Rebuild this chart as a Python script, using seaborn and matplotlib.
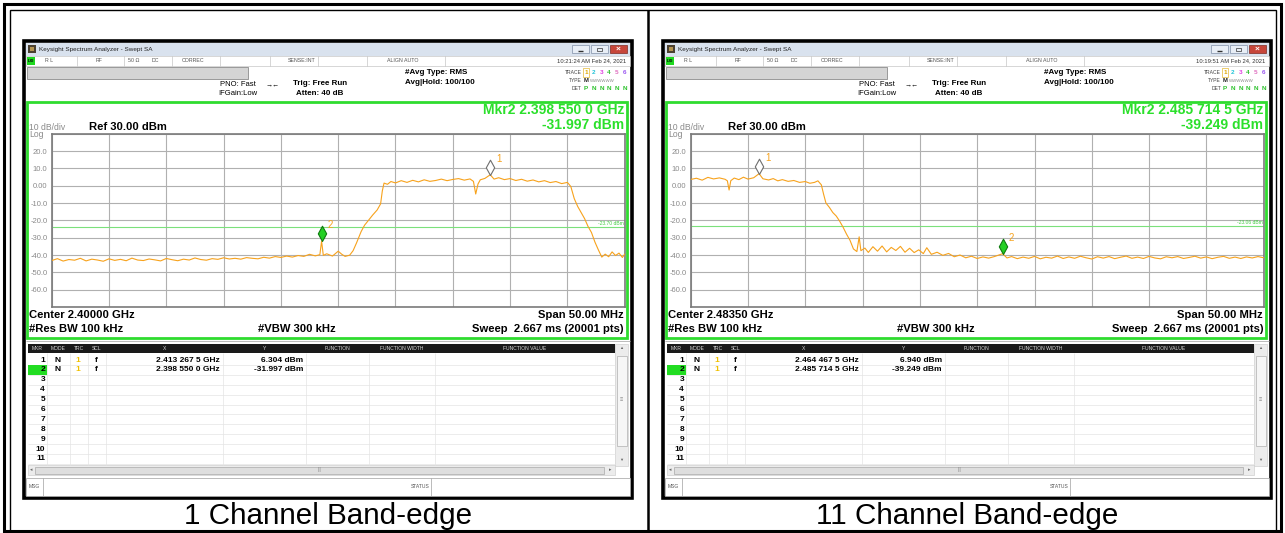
import numpy as np
import pandas as pd
import seaborn as sns
import matplotlib.pyplot as plt
from matplotlib.patches import Rectangle
from matplotlib.path import Path

# ---- data ----
# sweep points: offset from start of sweep (MHz) and level (dBm)
ch1_offset_mhz = [0.0, 0.5, 1.0, 1.5, 2.0, 2.5, 3.0, 3.5, 4.0, 4.5, 5.0, 5.5, 6.0, 6.5, 7.0, 7.5, 8.0, 8.5,
                  9.0, 9.5, 10.0, 10.5, 11.0, 11.5, 12.0, 12.5, 13.0, 13.5, 14.0, 14.5, 15.0, 15.5, 16.0,
                  16.5, 17.0, 17.5, 18.0, 18.5, 19.0, 19.5, 20.0, 20.5, 21.0, 21.5, 22.0, 22.5, 23.0, 23.4,
                  23.55, 23.7, 24.0, 24.5, 25.0, 25.3, 25.6, 26.0, 26.3, 26.6, 27.0, 27.3, 27.7, 28.0, 28.4,
                  28.7, 28.85, 29.0, 29.3, 29.6, 30.0, 30.5, 31.0, 31.5, 32.0, 32.5, 33.0, 33.5, 34.0, 34.5,
                  35.0, 35.5, 36.0, 36.5, 36.8, 37.0, 37.2, 37.4, 37.8, 38.2675, 38.6, 39.0, 39.5, 40.0, 40.5,
                  41.0, 41.5, 42.0, 42.5, 43.0, 43.5, 44.0, 44.5, 45.0, 45.3, 45.6, 45.9, 46.2, 46.5, 46.8,
                  47.1, 47.4, 47.7, 48.0, 48.3, 48.6, 48.9, 49.2, 49.5, 49.8, 50.0]
ch1_level_dbm = [-43.2, -42.1, -43.5, -42.6, -43.0, -41.9, -43.4, -42.4, -42.9, -43.6, -42.2, -43.1, -42.5,
                 -43.3, -41.8, -42.9, -43.2, -42.3, -42.8, -43.4, -42.0, -42.7, -43.3, -42.4, -42.9, -41.7,
                 -42.6, -43.0, -42.1, -42.5, -41.6, -42.3, -41.9, -42.4, -41.5, -41.9, -42.2, -41.3, -41.8,
                 -40.9, -41.4, -40.6, -41.2, -40.3, -40.8, -39.6, -40.5, -39.8, -31.997, -40.2, -39.3, -40.6,
                 -37.8, -39.5, -40.8, -40.1, -37.5, -33.0, -26.5, -22.8, -19.5, -17.0, -14.0, -10.5, -3.0,
                 1.5, 0.8, 2.4, 1.6, 2.9, 1.9, 3.1, 2.2, 3.4, 2.5, 3.0, 3.8, 2.9, 3.6, 4.1, 3.2, 3.9, 2.5,
                 -4.8, 1.0, 3.4, 4.2, 6.304, 3.8, 4.6, 3.5, 4.1, 3.0, 3.7, 2.6, 3.3, 2.2, 2.9, 1.8, 2.4, 1.2,
                 1.9, -0.5, -7.5, -12.0, -15.5, -19.0, -23.5, -27.0, -32.5, -37.0, -41.2, -39.5, -41.0,
                 -38.2, -40.3, -38.9, -41.4, -39.5]

ch11_offset_mhz = [0.0, 0.5, 1.0, 1.5, 2.0, 2.5, 3.0, 3.2, 3.35, 3.5, 3.8, 4.2, 4.6, 5.0, 5.5, 5.9675, 6.3,
                   6.8, 7.2, 7.6, 8.0, 8.5, 9.0, 9.5, 10.0, 10.4, 10.8, 11.1, 11.4, 11.6, 11.8, 12.1, 12.4,
                   12.7, 13.0, 13.3, 13.6, 13.9, 14.2, 14.5, 14.7, 14.85, 15.2, 15.5, 15.9, 16.3, 16.7, 17.1,
                   17.5, 17.9, 18.3, 18.7, 19.1, 19.5, 19.9, 20.3, 20.6, 21.0, 21.5, 22.0, 22.5, 23.0, 23.5,
                   24.0, 24.5, 25.0, 25.5, 26.0, 26.5, 27.2145, 27.6, 28.0, 28.5, 29.0, 29.5, 30.0, 30.5,
                   31.0, 31.5, 32.0, 32.5, 33.0, 33.5, 34.0, 34.5, 35.0, 35.5, 36.0, 36.5, 37.0, 37.5, 38.0,
                   38.5, 39.0, 39.5, 40.0, 40.5, 41.0, 41.5, 42.0, 42.5, 43.0, 43.5, 44.0, 44.5, 45.0, 45.5,
                   46.0, 46.5, 47.0, 47.5, 48.0, 48.5, 49.0, 49.5, 50.0]
ch11_level_dbm = [3.6, 4.3, 3.2, 4.8, 3.9, 4.5, 3.7, 2.8, -2.5, 2.9, 4.4, 3.5, 4.9, 3.8, 4.6, 6.94, 4.0, 3.3,
                  4.1, 2.8, 3.5, 2.5, 3.0, 1.9, 2.4, 1.4, 1.9, 2.8, 0.5, -5.0, -10.0, -12.5, -15.5, -17.5,
                  -20.5, -24.0, -28.0, -31.5, -36.5, -38.0, -29.5, -37.5, -36.0, -38.5, -35.2, -37.8, -34.8,
                  -38.2, -35.6, -37.4, -35.0, -38.4, -36.1, -38.6, -37.0, -39.2, -35.8, -39.6, -38.4, -40.2,
                  -39.1, -41.0, -40.0, -41.6, -40.7, -42.0, -41.1, -41.8, -40.9, -39.249, -41.7, -40.9,
                  -42.1, -41.2, -41.9, -40.8, -42.2, -41.3, -41.8, -40.6, -42.0, -41.1, -41.9, -40.7, -41.6,
                  -42.3, -41.0, -41.8, -40.9, -42.1, -41.3, -40.6, -41.9, -41.2, -42.0, -40.8, -41.7, -42.2,
                  -41.0, -41.6, -40.9, -42.0, -41.4, -40.7, -41.8, -41.1, -42.1, -41.3, -40.8, -41.9, -41.2,
                  -42.0, -41.1, -41.7, -40.9, -41.6]

center_ghz = [2.40000, 2.48350]
span_mhz = 50.0
mkr_freq_ghz = [[2.4132675, 2.3985500], [2.4644675, 2.4857145]]
mkr_level_dbm = [[6.304, -31.997], [6.940, -39.249]]
display_line_dbm = [-23.70, -23.06]
timestamps = ['10:21:24 AM Feb 24, 2021', '10:19:51 AM Feb 24, 2021']
captions = ['1 Channel Band-edge', '11 Channel Band-edge']
traces = [(ch1_offset_mhz, ch1_level_dbm), (ch11_offset_mhz, ch11_level_dbm)]

sns.set_style('white')
plt.rcParams['font.family'] = ['Liberation Sans', 'DejaVu Sans']

W, H = 1285, 533
fig = plt.figure(figsize=(W / 100, H / 100), dpi=100)
bg = fig.add_axes([0, 0, 1, 1])
bg.set_xlim(0, W)
bg.set_ylim(H, 0)
bg.axis('off')

ORANGE = '#f7a21c'
GREEN = '#2be02b'


def rect(x0, y0, x1, y1, fc='none', ec='none', lw=0.6, z=1):
    bg.add_patch(Rectangle((x0, y0), x1 - x0, y1 - y0, facecolor=fc, edgecolor=ec, linewidth=lw, zorder=z))


def txt(x, y, s, size=5, ha='left', color='black', bold=False, z=3):
    bg.text(x, y, s, fontsize=size, ha=ha, va='center', color=color,
            fontweight='bold' if bold else 'normal', zorder=z)


def hline(y, x0, x1, color, lw=0.5):
    bg.plot([x0, x1], [y, y], color=color, lw=lw, zorder=2, solid_capstyle='butt')


def vline(x, y0, y1, color, lw=0.5):
    bg.plot([x, x], [y0, y1], color=color, lw=lw, zorder=2, solid_capstyle='butt')


def ghz_str(v):
    s = f'{v:.7f}'
    ip, fp = s.split('.')
    return f'{ip}.{fp[:3]} {fp[3:6]} {fp[6:]} GHz'


# outer document frame
rect(4, 4, 1281, 531, ec='black', lw=2.2)
rect(10, 9.5, 1275.5, 531, ec='black', lw=1.0)
vline(648, 9.5, 531, 'black', 1.8)

diamond = Path([(0, 0), (0.55, 1.0), (0, 2.0), (-0.55, 1.0), (0, 0)], closed=True)

for p in range(2):
    ox = 639 * p
    # window frame and title bar
    rect(24 + ox, 41, 632 + ox, 498, fc='white', ec='black', lw=2.6)
    rect(26 + ox, 43, 630 + ox, 55.5, fc='#d9e2ee')
    rect(28 + ox, 45, 36 + ox, 53, fc='#4a4030')
    rect(30 + ox, 47, 34 + ox, 51, fc='#b39450')
    txt(39 + ox, 49.5, 'Keysight Spectrum Analyzer - Swept SA', 4.6, color='#222222')
    rect(572 + ox, 45, 589 + ox, 53, fc='#e8eef6', ec='#7f8ea6', lw=0.5)
    hline(50.5, 578 + ox, 583 + ox, '#333333', 1)
    rect(591 + ox, 45, 608 + ox, 53, fc='#e8eef6', ec='#7f8ea6', lw=0.5)
    rect(597 + ox, 47.5, 602 + ox, 51, ec='#333333', lw=0.5, z=2)
    rect(610 + ox, 45, 627 + ox, 53, fc='#c7463a', ec='#7e2a22', lw=0.5)
    txt(618.5 + ox, 48.8, '×', 6, ha='center', color='white', bold=True)

    # status row
    rect(26 + ox, 56, 630 + ox, 65.5, fc='white', ec='#b8b8b8', lw=0.4)
    rect(26.5 + ox, 56.5, 35 + ox, 65, fc='#1ed81e', z=2)
    txt(30.7 + ox, 60.8, 'LXI', 3, ha='center', bold=True)
    for dx in [76.7, 124, 171.7, 220, 270, 317.7, 366.7, 445]:
        vline(dx + ox, 56, 65.5, '#b8b8b8', 0.4)
    for sx, s in [(45, 'R L'), (96, 'RF'), (128, '50 Ω'), (151.7, 'DC'), (181.7, 'CORREC'),
                  (288, 'SENSE:INT'), (386.7, 'ALIGN AUTO')]:
        txt(sx + ox, 61, s, 3.8, color='#555555')
    txt(626 + ox, 61, timestamps[p], 4.2, ha='right', color='#333333')

    # grey message bar and acquisition settings
    rect(27 + ox, 67, 248 + ox, 79, fc='#d4d4d4', ec='#8c8c8c', lw=0.6)
    txt(238 + ox, 84.5, 'PNO: Fast', 5.5, ha='center')
    txt(238 + ox, 93.5, 'IFGain:Low', 5.5, ha='center')
    txt(273 + ox, 85, '→←', 5, ha='center')
    txt(293 + ox, 83.5, 'Trig: Free Run', 5.8, bold=True)
    txt(296 + ox, 93.5, 'Atten: 40 dB', 5.8, bold=True)
    txt(405 + ox, 72, '#Avg Type: RMS', 5.8, bold=True)
    txt(405 + ox, 82, 'Avg|Hold: 100/100', 5.8, bold=True)
    txt(582 + ox, 72, 'TRACE', 3.6, ha='right', color='#444444')
    txt(582 + ox, 80.5, 'TYPE', 3.6, ha='right', color='#444444')
    txt(582 + ox, 89, 'DET', 3.6, ha='right', color='#444444')
    trace_cols = ['#e0a800', '#22c4d8', '#e040e0', '#30c030', '#e070c0', '#9a55f0']
    rect(583 + ox, 67.5, 589 + ox, 76.5, ec='#e0a800', lw=0.4, z=2)
    for k in range(6):
        xk = 586 + 7.7 * k + ox
        txt(xk, 72, str(k + 1), 4.6, ha='center', color=trace_cols[k], bold=True)
        txt(xk, 89, 'P' if k == 0 else 'N', 4.6, ha='center', color='#2ec22e', bold=True)
    txt(586 + ox, 80.5, 'M', 4.2, ha='center', color='#222222', bold=True)
    txt(590 + ox, 80.5, 'WWWWWW', 3.2, color='#8a8a8a')

    # trace display area
    rect(27 + ox, 102, 627 + ox, 338, ec='#2fdc2f', lw=2, z=4)
    mf, ml = mkr_freq_ghz[p][1], mkr_level_dbm[p][1]
    txt(624 + ox, 110, f'Mkr2 {ghz_str(mf)}', 10, ha='right', color=GREEN, bold=True)
    txt(624 + ox, 125, f'{ml:.3f} dBm', 10, ha='right', color=GREEN, bold=True)
    txt(29 + ox, 127.5, '10 dB/div', 6.2, color='#8a8a8a')
    txt(29 + ox, 134.5, 'Log', 6.2, color='#8a8a8a')
    txt(89 + ox, 127, 'Ref 30.00 dBm', 8.1, bold=True)
    txt(29 + ox, 315, f'Center {center_ghz[p]:.5f} GHz', 8.1, bold=True)
    txt(29 + ox, 329, '#Res BW 100 kHz', 8.1, bold=True)
    txt(258 + ox, 329, '#VBW 300 kHz', 8.1, bold=True)
    txt(624 + ox, 315, f'Span {span_mhz:.2f} MHz', 8.1, ha='right', bold=True)
    txt(624 + ox, 329, 'Sweep  2.667 ms (20001 pts)', 8.1, ha='right', bold=True)

    ax = fig.add_axes([(51.7 + ox) / W, 1 - 307 / H, 573 / W, 173.3 / H])
    f0 = center_ghz[p] - span_mhz / 2000
    offs, lev = traces[p]
    df = pd.DataFrame({'freq': f0 + np.array(offs) / 1000, 'level': lev})
    sns.lineplot(data=df, x='freq', y='level', ax=ax, color=ORANGE, lw=0.8, zorder=3)
    dl = display_line_dbm[p]
    ax.axhline(dl, color='#7be07b', lw=0.8, zorder=2)
    ax.text(0.998, dl + 0.6, f'{dl:.2f} dBm', transform=ax.get_yaxis_transform(), ha='right',
            va='bottom', fontsize=3.6, color='#44cc44')
    for k in range(2):
        fc = 'white' if k == 0 else '#24d024'
        ec = '#6e6e6e' if k == 0 else '#0f7a0f'
        ax.plot([mkr_freq_ghz[p][k]], [mkr_level_dbm[p][k]], marker=diamond, ms=22, mfc=fc, mec=ec,
                mew=0.8, ls='none', zorder=5, clip_on=False)
        ax.annotate(str(k + 1), (mkr_freq_ghz[p][k], mkr_level_dbm[p][k]), xytext=(4.5, 11.5),
                    textcoords='offset points', color=ORANGE, fontsize=7, ha='left', va='center')
    ax.set_xlim(f0, f0 + span_mhz / 1000)
    ax.set_ylim(-70, 30)
    ax.set_xticks([f0 + span_mhz / 1000 * i / 10 for i in range(11)])
    ax.set_xticklabels([])
    yt = list(range(-70, 31, 10))
    ax.set_yticks(yt)
    ax.set_yticklabels(['' if v in (30, -70) else ('0.00' if v == 0 else f'{v:.1f}') for v in yt])
    ax.tick_params(length=0, pad=3, labelsize=5.5, labelcolor='#8a8a8a')
    ax.grid(True, color='#b0b0b0', lw=0.8)
    for sp in ax.spines.values():
        sp.set_color('#7a7a7a')
        sp.set_linewidth(1.2)
    ax.set_xlabel('')
    ax.set_ylabel('')

    # marker table
    hline(341, 26 + ox, 630 + ox, '#b0b0b0', 0.6)
    cols = [28, 47, 70, 88, 106, 223, 306, 369, 435, 615]
    heads = ['MKR', 'MODE', 'TRC', 'SCL', 'X', 'Y', 'FUNCTION', 'FUNCTION WIDTH', 'FUNCTION VALUE']
    for c0, c1, h in zip(cols[:-1], cols[1:], heads):
        rect(c0 + ox + 0.4, 344, c1 + ox - 0.4, 352.5, fc='#1a1a1a', z=2)
        txt((c0 + c1) / 2 + ox, 348.3, h, 3.6, ha='center', color='#d8d8d8')
    for i in range(11):
        yr = 360 + 9.9 * i
        hline(yr + 4.9, 28 + ox, 615 + ox, '#e4e4e4', 0.5)
        if i == 1:
            rect(28 + ox, yr - 4.9, 46.7 + ox, yr + 4.9, fc='#22dd22', z=2)
        txt(45 + ox, yr, str(i + 1), 6, ha='right', bold=True)
    for c in cols[1:-1]:
        vline(c + ox, 352.5, 465, '#e4e4e4', 0.5)
    for k in range(2):
        yr = 360 + 9.9 * k
        txt(58 + ox, yr, 'N', 6, ha='center', bold=True)
        txt(78 + ox, yr, '1', 6, ha='center', color='#f0c000', bold=True)
        txt(96 + ox, yr, 'f', 6, ha='center', bold=True)
        txt(220 + ox, yr, ghz_str(mkr_freq_ghz[p][k]), 6, ha='right', bold=True)
        txt(303 + ox, yr, f'{mkr_level_dbm[p][k]:.3f} dBm', 6, ha='right', bold=True)
    # scrollbars
    rect(615 + ox, 344, 628 + ox, 466, fc='#ececec', ec='#c8c8c8', lw=0.4)
    rect(616.5 + ox, 356, 626.5 + ox, 446, fc='#f6f6f6', ec='#b0b0b0', lw=0.5, z=2)
    txt(621.5 + ox, 348, '▲', 3, ha='center', color='#666666')
    txt(621.5 + ox, 400, '≡', 4, ha='center', color='#888888')
    txt(621.5 + ox, 460, '▼', 3, ha='center', color='#666666')
    rect(28 + ox, 465, 615 + ox, 475, fc='#ececec', ec='#c8c8c8', lw=0.4)
    rect(35 + ox, 466.5, 604 + ox, 473.5, fc='#dedede', ec='#aaaaaa', lw=0.5, z=2)
    txt(31 + ox, 470, '◂', 3.5, ha='center', color='#666666')
    txt(610 + ox, 470, '▸', 3.5, ha='center', color='#666666')
    txt(320 + ox, 470, '|||', 3.5, ha='center', color='#888888')
    # message bar
    rect(26 + ox, 478, 630 + ox, 496, fc='white', ec='#a0a0a0', lw=0.5)
    vline(43 + ox, 478, 496, '#a0a0a0', 0.5)
    vline(431 + ox, 478, 496, '#a0a0a0', 0.5)
    txt(28.5 + ox, 487, 'MSG', 3.6, color='#555555')
    txt(410.5 + ox, 487, 'STATUS', 3.6, color='#555555')

    txt(328 + ox, 516.5, captions[p], 21.3, ha='center')

fig.savefig('out.png', dpi=100)
